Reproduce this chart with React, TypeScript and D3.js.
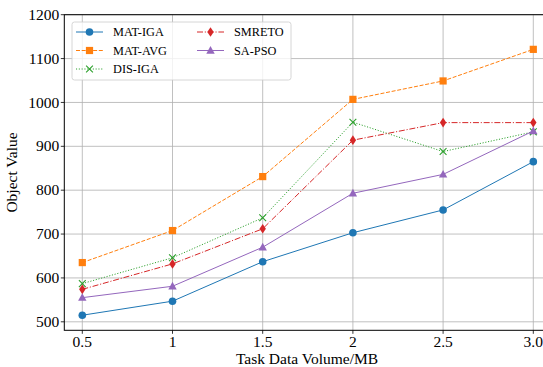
import React from "react";
import * as d3 from "d3";

const xValues = [0.5, 1, 1.5, 2, 2.5, 3.0];
const xTickLabels = ["0.5", "1", "1.5", "2", "2.5", "3.0"];
const yTicks = [500, 600, 700, 800, 900, 1000, 1100, 1200];

const seriesNames = ["MAT-IGA", "MAT-AVG", "DIS-IGA", "SMRETO", "SA-PSO"];
const matIga = [515, 547, 637, 703, 755, 865];
const matAvg = [635, 708, 831, 1007, 1049, 1121];
const disIga = [587, 646, 737, 955, 888, 933];
const smreto = [574, 632, 712, 914, 954, 954];
const saPso = [555, 581, 670, 793, 836, 935];

const seriesData = [matIga, matAvg, disIga, smreto, saPso];
const colors = ["#1f77b4", "#ff7f0e", "#2ca02c", "#d62728", "#9467bd"];
const dashes = ["", "4,1.7", "1.1,1.7", "6,1.8,1.1,1.8", ""];
const markers = ["circle", "square", "x", "diamond", "triangle"];

const W = 543;
const H = 367;
const left = 64.3;
const right = 551;
const top = 14.7;
const bottom = 330.3;
const FONT = "'Liberation Serif', 'Times New Roman', serif";

function Marker({ type, x, y, color }: { type: string; x: number; y: number; color: string }) {
  if (type === "circle") return <circle cx={x} cy={y} r={3.8} fill={color} />;
  if (type === "square") return <rect x={x - 3.6} y={y - 3.6} width={7.2} height={7.2} fill={color} />;
  if (type === "x")
    return (
      <path
        d={`M${x - 3.4},${y - 3.4}L${x + 3.4},${y + 3.4}M${x - 3.4},${y + 3.4}L${x + 3.4},${y - 3.4}`}
        stroke={color}
        strokeWidth={1.1}
        fill="none"
      />
    );
  if (type === "diamond")
    return <path d={`M${x},${y - 4.8}L${x + 3.2},${y}L${x},${y + 4.8}L${x - 3.2},${y}Z`} fill={color} />;
  return <path d={`M${x},${y - 4.4}L${x + 4.2},${y + 3.2}L${x - 4.2},${y + 3.2}Z`} fill={color} />;
}

export default function App() {
  const x = d3.scaleLinear().domain([0.5, 3.0]).range([82.3, 533.3]);
  const y = d3.scaleLinear().domain([500, 1200]).range([321.8, top]);
  const line = d3
    .line<number>()
    .x((_, i) => x(xValues[i]))
    .y((d) => y(d));

  const legendItems = seriesNames.map((name, i) => {
    const col = i < 3 ? 0 : 1;
    const row = i < 3 ? i : i - 3;
    return { name, i, hx: col === 0 ? 76 : 197, ty: 32 + row * 18.5 };
  });

  return (
    <svg
      width={W}
      height={H}
      style={{ position: "absolute", left: 0, top: 0, background: "#fff" }}
      fontFamily={FONT}
    >
      <rect x={0} y={0} width={W} height={H} fill="#fff" />
      {yTicks.map((t) => (
        <line key={"gy" + t} x1={left} x2={right} y1={y(t)} y2={y(t)} stroke="#b0b0b0" strokeWidth={0.8} />
      ))}
      {xValues.map((t) => (
        <line key={"gx" + t} x1={x(t)} x2={x(t)} y1={top} y2={bottom} stroke="#b0b0b0" strokeWidth={0.8} />
      ))}
      {seriesData.map((data, i) => (
        <g key={seriesNames[i]}>
          <path d={line(data) || ""} fill="none" stroke={colors[i]} strokeWidth={1} strokeDasharray={dashes[i]} />
          {data.map((v, j) => (
            <Marker key={j} type={markers[i]} x={x(xValues[j])} y={y(v)} color={colors[i]} />
          ))}
        </g>
      ))}
      <rect x={left} y={top} width={right - left} height={bottom - top} fill="none" stroke="#000" strokeWidth={1} />
      {yTicks.map((t) => (
        <g key={"yt" + t}>
          <line x1={left - 3.5} x2={left} y1={y(t)} y2={y(t)} stroke="#000" strokeWidth={0.8} />
          <text x={left - 5} y={y(t)} dy="0.33em" textAnchor="end" fontSize={15.5} fill="#000">
            {t}
          </text>
        </g>
      ))}
      {xValues.map((t, i) => (
        <g key={"xt" + t}>
          <line x1={x(t)} x2={x(t)} y1={bottom} y2={bottom + 3.5} stroke="#000" strokeWidth={0.8} />
          <text x={x(t)} y={bottom + 17} textAnchor="middle" fontSize={15.5} fill="#000">
            {xTickLabels[i]}
          </text>
        </g>
      ))}
      <text x={307} y={364} textAnchor="middle" fontSize={15.5} fill="#000">
        Task Data Volume/MB
      </text>
      <text
        transform={`translate(17,${(top + bottom) / 2}) rotate(-90)`}
        textAnchor="middle"
        fontSize={15.5}
        fill="#000"
      >
        Object Value
      </text>
      <rect x={72} y={22} width={219} height={58} rx={2.5} fill="#fff" fillOpacity={0.8} stroke="#cccccc" strokeWidth={0.8} />
      {legendItems.map((it) => (
        <g key={"lg" + it.name}>
          <line
            x1={it.hx}
            x2={it.hx + 27}
            y1={it.ty}
            y2={it.ty}
            stroke={colors[it.i]}
            strokeWidth={1}
            strokeDasharray={dashes[it.i]}
          />
          <Marker type={markers[it.i]} x={it.hx + 13.5} y={it.ty} color={colors[it.i]} />
          <text x={it.hx + 37} y={it.ty} dy="0.35em" fontSize={12.3} fill="#000">
            {it.name}
          </text>
        </g>
      ))}
    </svg>
  );
}
